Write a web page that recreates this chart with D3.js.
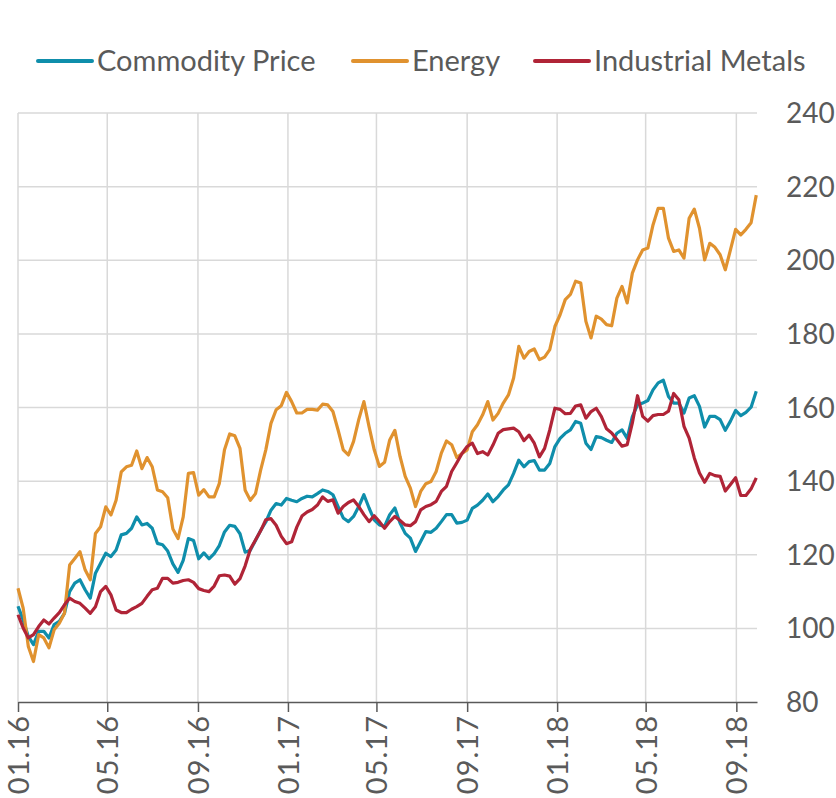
<!DOCTYPE html>
<html>
<head>
<meta charset="utf-8">
<script src="https://cdn.jsdelivr.net/npm/d3@7"></script>
<style>
  body { margin: 0; background: #fff; }
  text { font-family: Lato, "Open Sans", sans-serif; fill: #5a5a5a; }
</style>
</head>
<body>
<div id="chart"></div>
<script>
// Weekly observations, starting 01.01.2016
var startDate = new Date(2016, 0, 1);

var commodityPrice = [
  106, 102.3, 97.8, 95.6, 99.2, 99.2, 97.4, 101, 101.9, 104.1,
  110, 112.3, 113.2, 110.5, 108.2, 115, 117.7, 120.4, 119.5, 121.3,
  125.4, 125.8, 127.2, 130.3, 128.1, 128.5, 127.2, 123.1, 122.7, 121,
  117.5, 115.2, 118.5, 124.4, 123.9, 118.9, 120.5, 118.9, 120.3, 122.5,
  126.2, 128, 127.7, 125.7, 120.7, 121.2, 123.9, 126.6, 128.9, 132.1,
  133.9, 133.5, 135.3, 134.8, 134.4, 135.3, 135.9, 135.7, 136.6, 137.6,
  137.2, 136.3, 133.1, 130, 129, 130.4, 133.1, 136.3, 132.7, 129.5,
  128.1, 127.7, 130.9, 132.7, 128.6, 125.8, 124.5, 120.9, 123.6, 126.3,
  126.1, 127.2, 129, 130.9, 130.9, 128.6, 128.8, 129.4, 132.6, 133.5,
  134.8, 136.5, 134.4, 135.8, 137.6, 139, 142.1, 145.7, 143.9, 145.3,
  145.6, 143, 143, 144.8, 149.4, 151.6, 153, 153.9, 156.2, 155.7,
  150.3, 148.6, 152.1, 151.8, 151.1, 150.5, 153, 153.9, 151.6, 157.5,
  160.7, 161.2, 161.9, 164.8, 166.7, 167.4, 163, 161.2, 161.2, 158.5,
  162.6, 163.2, 160.3, 154.7, 157.6, 157.6, 156.7, 153.8, 156.3, 159.2,
  157.8, 158.7, 160.1, 164.4
];

var energy = [
  110.9, 105.5, 95.1, 91, 98.3, 97.4, 94.7, 99.6, 101.4, 104.1,
  117.2, 119, 120.8, 115.9, 113.2, 125.8, 127.6, 133, 130.8, 134.8,
  142.5, 143.9, 144.3, 148.2, 143.4, 146.4, 143.9, 137.6, 137.1, 135.5,
  127, 124.4, 130.3, 142.1, 142.3, 136.2, 137.7, 135.7, 135.7, 139.4,
  148.5, 152.8, 152.3, 148.9, 137.5, 134.8, 136.6, 143, 148.5, 155.7,
  159.4, 160.5, 164.1, 161.6, 158.5, 158.5, 159.5, 159.5, 159.3, 160.9,
  160.7, 158.9, 153.9, 148.5, 147.1, 150.8, 156.7, 161.6, 154.8, 148.5,
  144, 145.1, 151.2, 153.8, 146.7, 141.3, 138.1, 133.1, 137.2, 139.3,
  139.9, 142.6, 147.6, 150.9, 149.9, 146.4, 147.5, 148.5, 153.4, 155.3,
  158, 161.6, 156.6, 158.4, 161.2, 163.4, 168, 176.6, 173.4, 175.2,
  175.9, 173, 173.7, 175.7, 182, 185.2, 189.3, 190.7, 194.3, 193.8,
  183.4, 178.9, 184.8, 184, 182.5, 182.2, 189.7, 192.9, 188.4, 196.5,
  200.1, 202.8, 203.3, 209.6, 214.1, 214.1, 206, 202.4, 202.8, 200.6,
  211.4, 213.9, 208.7, 200.1, 204.6, 203.5, 201.5, 197.4, 202.8, 208.4,
  206.9, 208.4, 210.2, 217.7
];

var industrialMetals = [
  103.7, 100.1, 97.4, 98.3, 100.5, 102.3, 101.2, 102.8, 104.3, 106.4,
  108.2, 107.3, 106.8, 105.5, 104.1, 105.9, 110, 111.4, 109.1, 105,
  104.3, 104.3, 105.2, 105.9, 106.8, 108.7, 110.5, 110.9, 113.6, 113.6,
  112.3, 112.5, 113, 113.2, 112.5, 110.8, 110.3, 110, 111.5, 114.3,
  114.5, 114.2, 112, 113.5, 117, 121.5, 124, 126.5, 129.5, 129.8,
  128, 125, 123, 123.5, 127.5, 130.5, 131.6, 132.3, 133.5, 135.7,
  134.5, 134.9, 131.3, 133.1, 134.2, 134.9, 133.1, 130.9, 129, 130.6,
  129, 127.2, 129, 130.4, 129.3, 128.1, 127.9, 129, 132.2, 133.1,
  133.6, 134.5, 137.2, 138.6, 142.6, 145, 147.5, 149.4, 150.3, 147.5,
  148, 147.1, 149.8, 153, 154, 154.2, 154.4, 153.4, 151, 152.5,
  150.3, 146.6, 148.9, 153.9, 159.8, 159.5, 158.3, 158.4, 160.4, 160.7,
  157.1, 158.9, 159.8, 157.5, 154.2, 153.1, 151.3, 149.5, 149.9, 155.8,
  163.2, 157.6, 156.3, 157.8, 158.1, 158.1, 159, 163.8, 162.1, 154.9,
  151.7, 146.3, 142.2, 139.7, 142.1, 141.5, 141.3, 137.3, 139.1, 140.9,
  136.1, 136.1, 137.9, 140.9
];

var seriesNames = ["Commodity Price", "Energy", "Industrial Metals"];
var seriesColors = ["#0f8eab", "#e0922f", "#b02437"];
var yTicks = [80, 100, 120, 140, 160, 180, 200, 220, 240];
var xTickDates = [
  new Date(2016, 0, 1), new Date(2016, 4, 1), new Date(2016, 8, 1),
  new Date(2017, 0, 1), new Date(2017, 4, 1), new Date(2017, 8, 1),
  new Date(2018, 0, 1), new Date(2018, 4, 1), new Date(2018, 8, 1)
];

var width = 836, height = 798;
var plotLeft = 18, plotRight = 757, plotTop = 113, plotBottom = 702;

var dates = commodityPrice.map(function (d, i) {
  return d3.timeDay.offset(startDate, 7 * i);
});

var series = [commodityPrice, energy, industrialMetals].map(function (vals, k) {
  return {
    name: seriesNames[k],
    color: seriesColors[k],
    values: vals.map(function (v, i) { return { date: dates[i], value: v }; })
  };
});

var svg = d3.select("#chart").append("svg")
  .attr("width", width)
  .attr("height", height);

var x = d3.scaleTime()
  .domain([new Date(2016, 0, 1), new Date(2018, 8, 29)])
  .range([plotLeft, plotRight]);

var y = d3.scaleLinear()
  .domain([80, 240])
  .range([plotBottom, plotTop]);

// horizontal grid
svg.append("g")
  .selectAll("line")
  .data(yTicks.slice(1))
  .enter().append("line")
  .attr("x1", plotLeft).attr("x2", plotRight)
  .attr("y1", function (d) { return y(d); })
  .attr("y2", function (d) { return y(d); })
  .attr("stroke", "#d9d9d9")
  .attr("stroke-width", 1.5);

// vertical grid
svg.append("g")
  .selectAll("line")
  .data(xTickDates)
  .enter().append("line")
  .attr("x1", function (d) { return x(d); })
  .attr("x2", function (d) { return x(d); })
  .attr("y1", plotTop).attr("y2", plotBottom)
  .attr("stroke", "#d9d9d9")
  .attr("stroke-width", 1.5);

// x axis
var xAxis = svg.append("g")
  .attr("transform", "translate(0," + plotBottom + ")")
  .call(d3.axisBottom(x)
    .tickValues(xTickDates)
    .tickFormat(d3.timeFormat("%m.%y"))
    .tickSize(10)
    .tickSizeOuter(0));
xAxis.select(".domain").attr("stroke", "#595959").attr("stroke-width", 1.5);
xAxis.selectAll(".tick line").attr("stroke", "#595959").attr("stroke-width", 1.5);
xAxis.selectAll(".tick text")
  .attr("transform", "rotate(-90)")
  .attr("x", -13)
  .attr("y", 0)
  .attr("dy", "0.36em")
  .style("text-anchor", "end")
  .style("font-size", "29px")
  .style("letter-spacing", "1px")
  .style("font-family", "Lato, sans-serif")
  .attr("fill", "#5a5a5a");

// y axis labels on the right
svg.append("g")
  .selectAll("text")
  .data(yTicks)
  .enter().append("text")
  .attr("x", 786)
  .attr("y", function (d) { return y(d); })
  .attr("dy", "0.36em")
  .style("font-size", "28px")
  .text(function (d) { return d; });

var line = d3.line()
  .x(function (d) { return x(d.date); })
  .y(function (d) { return y(d.value); });

svg.append("g")
  .selectAll("path")
  .data(series)
  .enter().append("path")
  .attr("d", function (d) { return line(d.values); })
  .attr("fill", "none")
  .attr("stroke", function (d) { return d.color; })
  .attr("stroke-width", 3.2)
  .attr("stroke-linejoin", "round");

// legend
var legendX = [38, 353, 535];
var legend = svg.append("g")
  .selectAll("g")
  .data(series)
  .enter().append("g")
  .attr("transform", function (d, i) { return "translate(" + legendX[i] + ",61)"; });

legend.append("line")
  .attr("x1", 0).attr("x2", 54)
  .attr("y1", 0).attr("y2", 0)
  .attr("stroke", function (d) { return d.color; })
  .attr("stroke-width", 4)
  .attr("stroke-linecap", "round");

legend.append("text")
  .attr("x", 59)
  .attr("dy", "0.36em")
  .style("font-size", "29px")
  .text(function (d) { return d.name; });
</script>
</body>
</html>
